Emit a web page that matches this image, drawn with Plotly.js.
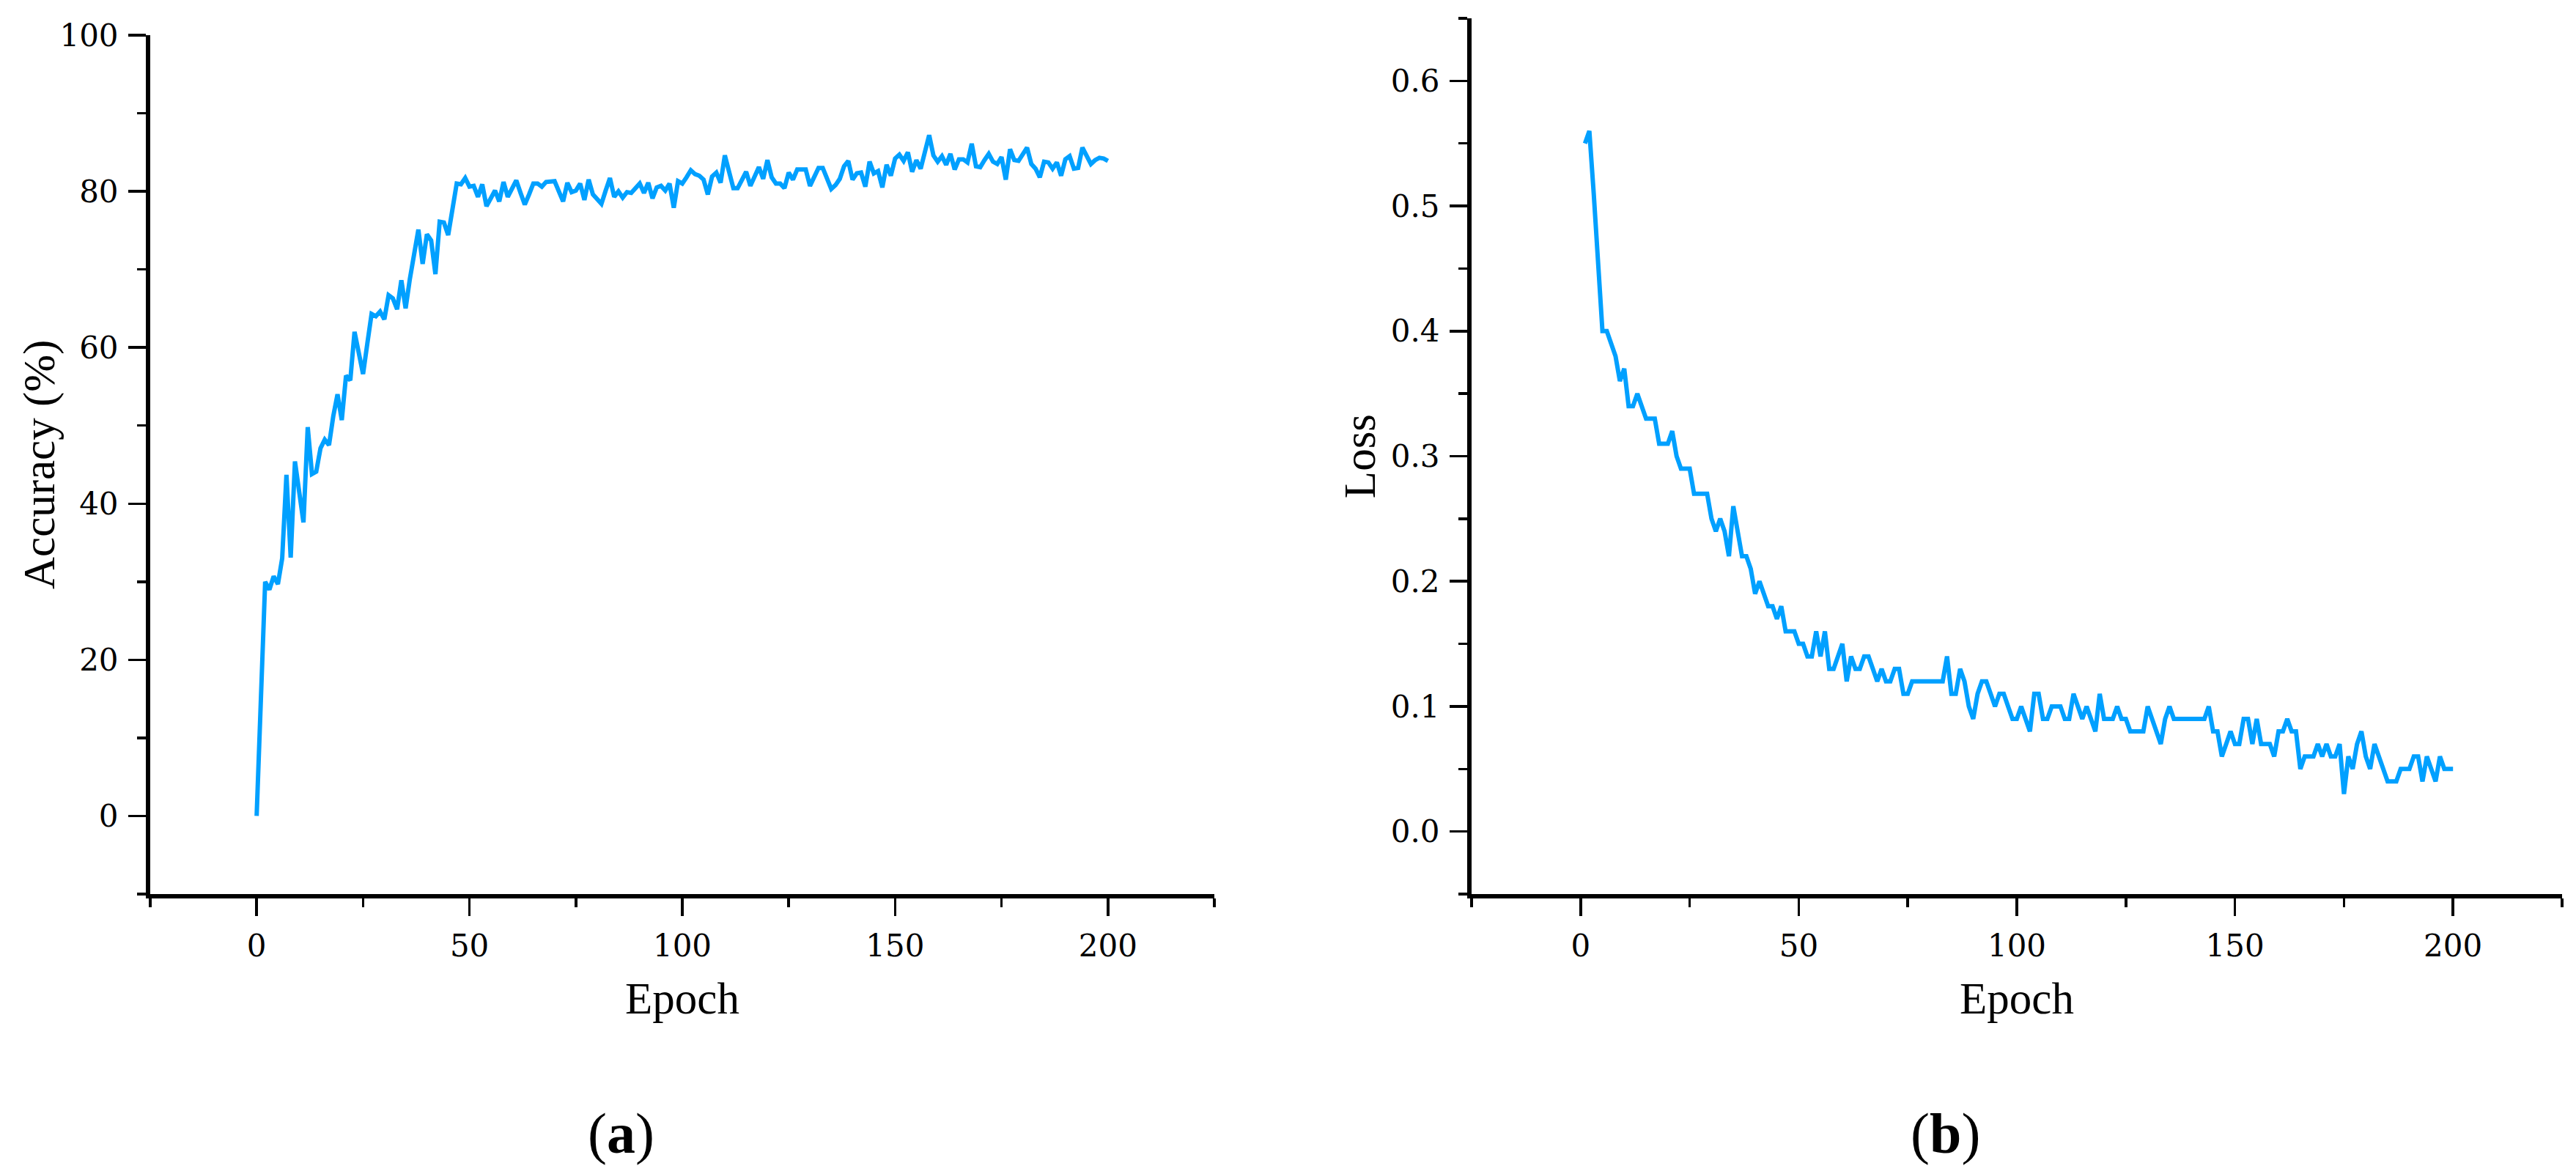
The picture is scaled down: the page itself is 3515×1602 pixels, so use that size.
<!DOCTYPE html>
<html>
<head>
<meta charset="utf-8">
<script src="https://cdn.plot.ly/plotly-3.0.1.min.js"></script>
<style>
html, body { margin: 0; padding: 0; background: #ffffff; }
#chart { width: 3515px; height: 1602px; }
</style>
</head>
<body>
<div id="chart"></div>
<script>
// ---------------- data ----------------
const accStartEpoch = 0;
const accuracy = [
  0, 15, 30, 29, 30.7, 29.7, 33, 43.7, 33.1, 45.4,
  41.5, 37.6, 49.8, 43.8, 44.1, 47.1, 48.2, 47.5, 51.2, 54.0,
  50.7, 56.4, 55.8, 62.0, 59.3, 56.6, 60.5, 64.3, 64.0, 64.6,
  63.6, 66.7, 66.3, 64.9, 68.6, 65.0, 68.8, 72.0, 75.1, 70.7,
  74.5, 73.7, 69.4, 76.1, 76.0, 74.4, 77.7, 81.0, 80.9, 81.7,
  80.6, 80.7, 79.3, 80.9, 78.1, 79.1, 80.1, 78.7, 81.2, 79.3,
  80.4, 81.4, 79.8, 78.3, 79.6, 81.0, 81.0, 80.6, 81.2, 81.3,
  81.3, 80.0, 78.7, 81.1, 79.9, 80.1, 81.0, 78.9, 81.5, 79.6,
  79.0, 78.4, 80.1, 81.7, 79.3, 80.0, 79.2, 79.9, 79.8, 80.4,
  81.0, 79.8, 81.1, 79.1, 80.5, 80.7, 80.1, 81.0, 77.9, 81.3,
  81.0, 81.8, 82.7, 82.2, 82.0, 81.5, 79.6, 81.9, 82.4, 81.1,
  84.6, 82.5, 80.4, 80.4, 81.5, 82.5, 80.7, 82.0, 83.1, 81.6,
  84.0, 81.8, 81.0, 81.0, 80.4, 82.4, 81.5, 82.8, 82.8, 82.8,
  80.7, 82.0, 83.0, 83.0, 81.6, 80.3, 80.8, 81.6, 83.2, 83.9,
  81.5, 82.3, 82.4, 80.6, 83.8, 82.3, 82.6, 80.5, 83.4, 82.0,
  84.2, 84.7, 83.9, 85.0, 82.5, 84.0, 82.9, 85.0, 87.2, 84.6,
  83.8, 84.5, 83.4, 84.8, 82.8, 84.1, 84.1, 83.7, 86.1, 83.2,
  83.1, 84.0, 84.8, 83.8, 83.5, 84.4, 81.5, 85.4, 84.0, 83.9,
  84.7, 85.6, 83.5, 82.9, 81.8, 83.8, 83.7, 82.9, 83.7, 82.0,
  84.1, 84.5, 82.9, 83.0, 85.6, 84.5, 83.5, 84.0, 84.3, 84.2,
  83.9
];

const lossStartEpoch = 1;
const loss = [
  0.55, 0.56, 0.51, 0.45, 0.40, 0.40, 0.39, 0.38, 0.36, 0.37,
  0.34, 0.34, 0.35, 0.34, 0.33, 0.33, 0.33, 0.31, 0.31, 0.31,
  0.32, 0.30, 0.29, 0.29, 0.29, 0.27, 0.27, 0.27, 0.27, 0.25,
  0.24, 0.25, 0.24, 0.22, 0.26, 0.24, 0.22, 0.22, 0.21, 0.19,
  0.20, 0.19, 0.18, 0.18, 0.17, 0.18, 0.16, 0.16, 0.16, 0.15,
  0.15, 0.14, 0.14, 0.16, 0.14, 0.16, 0.13, 0.13, 0.14, 0.15,
  0.12, 0.14, 0.13, 0.13, 0.14, 0.14, 0.13, 0.12, 0.13, 0.12,
  0.12, 0.13, 0.13, 0.11, 0.11, 0.12, 0.12, 0.12, 0.12, 0.12,
  0.12, 0.12, 0.12, 0.14, 0.11, 0.11, 0.13, 0.12, 0.10, 0.09,
  0.11, 0.12, 0.12, 0.11, 0.10, 0.11, 0.11, 0.10, 0.09, 0.09,
  0.10, 0.09, 0.08, 0.11, 0.11, 0.09, 0.09, 0.10, 0.10, 0.10,
  0.09, 0.09, 0.11, 0.10, 0.09, 0.10, 0.09, 0.08, 0.11, 0.09,
  0.09, 0.09, 0.10, 0.09, 0.09, 0.08, 0.08, 0.08, 0.08, 0.10,
  0.09, 0.08, 0.07, 0.09, 0.10, 0.09, 0.09, 0.09, 0.09, 0.09,
  0.09, 0.09, 0.09, 0.10, 0.08, 0.08, 0.06, 0.07, 0.08, 0.07,
  0.07, 0.09, 0.09, 0.07, 0.09, 0.07, 0.07, 0.07, 0.06, 0.08,
  0.08, 0.09, 0.08, 0.08, 0.05, 0.06, 0.06, 0.06, 0.07, 0.06,
  0.07, 0.06, 0.06, 0.07, 0.03, 0.06, 0.05, 0.07, 0.08, 0.06,
  0.05, 0.07, 0.06, 0.05, 0.04, 0.04, 0.04, 0.05, 0.05, 0.05,
  0.06, 0.06, 0.04, 0.06, 0.05, 0.04, 0.06, 0.05, 0.05, 0.05
];

const accEpochs = accuracy.map((_, i) => accStartEpoch + i);
const lossEpochs = loss.map((_, i) => lossStartEpoch + i);

const xTitle = 'Epoch';
const accTitle = 'Accuracy (%)';
const lossTitle = 'Loss';
const panelLabels = ['(<b>a</b>)', '(<b>b</b>)'];

// ---------------- styling ----------------
const W = 3515, H = 1602;
const lineColor = '#00A0FF';
const tickFont = { family: 'DejaVu Serif', size: 42, color: '#000000' };
const titleFont = { family: 'Liberation Serif', size: 61, color: '#000000' };

function px2x(px) { return px / W; }
function px2y(py) { return 1 - py / H; }

function baseAxis(extra) {
  return Object.assign({
    showline: true, linecolor: '#000000', linewidth: 6,
    ticks: 'outside', ticklen: 24, tickwidth: 3.5, tickcolor: '#000000',
    showgrid: false, zeroline: false,
    tickfont: tickFont,
    ticklabelstandoff: 5,
    autorange: false,
    automargin: false,
    fixedrange: true
  }, extra);
}

const traces = [
  { x: accEpochs, y: accuracy, type: 'scatter', mode: 'lines',
    line: { color: lineColor, width: 6 }, xaxis: 'x', yaxis: 'y', hoverinfo: 'skip' },
  { x: lossEpochs, y: loss, type: 'scatter', mode: 'lines',
    line: { color: lineColor, width: 6 }, xaxis: 'x2', yaxis: 'y2', hoverinfo: 'skip' }
];

const minorX = { ticks: 'outside', ticklen: 12, tickwidth: 3.5, tickcolor: '#000000', dtick: 25, showgrid: false };

const layout = {
  width: W, height: H,
  margin: { l: 0, r: 0, t: 0, b: 0, pad: 0 },
  paper_bgcolor: '#ffffff', plot_bgcolor: '#ffffff',
  showlegend: false,
  xaxis: baseAxis({
    domain: [px2x(205), px2x(1657)], anchor: 'y',
    range: [-25, 225], tick0: 0, dtick: 50,
    minor: minorX,
    title: { text: xTitle, font: titleFont, standoff: 28 }
  }),
  yaxis: baseAxis({
    domain: [px2y(1220), px2y(48)], anchor: 'x',
    range: [-10, 100], tick0: 0, dtick: 20,
    minor: { ticks: 'outside', ticklen: 12, tickwidth: 3.5, tickcolor: '#000000', dtick: 10, showgrid: false }
  }),
  xaxis2: baseAxis({
    domain: [px2x(2008), px2x(3496)], anchor: 'y2',
    range: [-25, 225], tick0: 0, dtick: 50,
    minor: minorX,
    title: { text: xTitle, font: titleFont, standoff: 28 }
  }),
  yaxis2: baseAxis({
    domain: [px2y(1220), px2y(25)], anchor: 'x2',
    range: [-0.05, 0.65], tick0: 0, dtick: 0.1, tickformat: '.1f',
    minor: { ticks: 'outside', ticklen: 12, tickwidth: 3.5, tickcolor: '#000000', dtick: 0.05, showgrid: false },
    title: { text: lossTitle, font: titleFont, standoff: 3 }
  }),
  annotations: [
    // y-axis title of panel (a), placed as rotated text next to the axis
    { text: accTitle, xref: 'paper', yref: 'paper', x: px2x(54), y: px2y(634),
      xanchor: 'center', yanchor: 'middle', textangle: -90, showarrow: false,
      font: titleFont },
    { text: panelLabels[0], xref: 'paper', yref: 'paper', x: px2x(847), y: px2y(1546),
      xanchor: 'center', yanchor: 'middle', showarrow: false,
      font: { family: 'Liberation Serif', size: 78, color: '#000000' } },
    { text: panelLabels[1], xref: 'paper', yref: 'paper', x: px2x(2654), y: px2y(1546),
      xanchor: 'center', yanchor: 'middle', showarrow: false,
      font: { family: 'Liberation Serif', size: 78, color: '#000000' } }
  ]
};

Plotly.newPlot('chart', traces, layout, { staticPlot: true, displayModeBar: false });
</script>
</body>
</html>
